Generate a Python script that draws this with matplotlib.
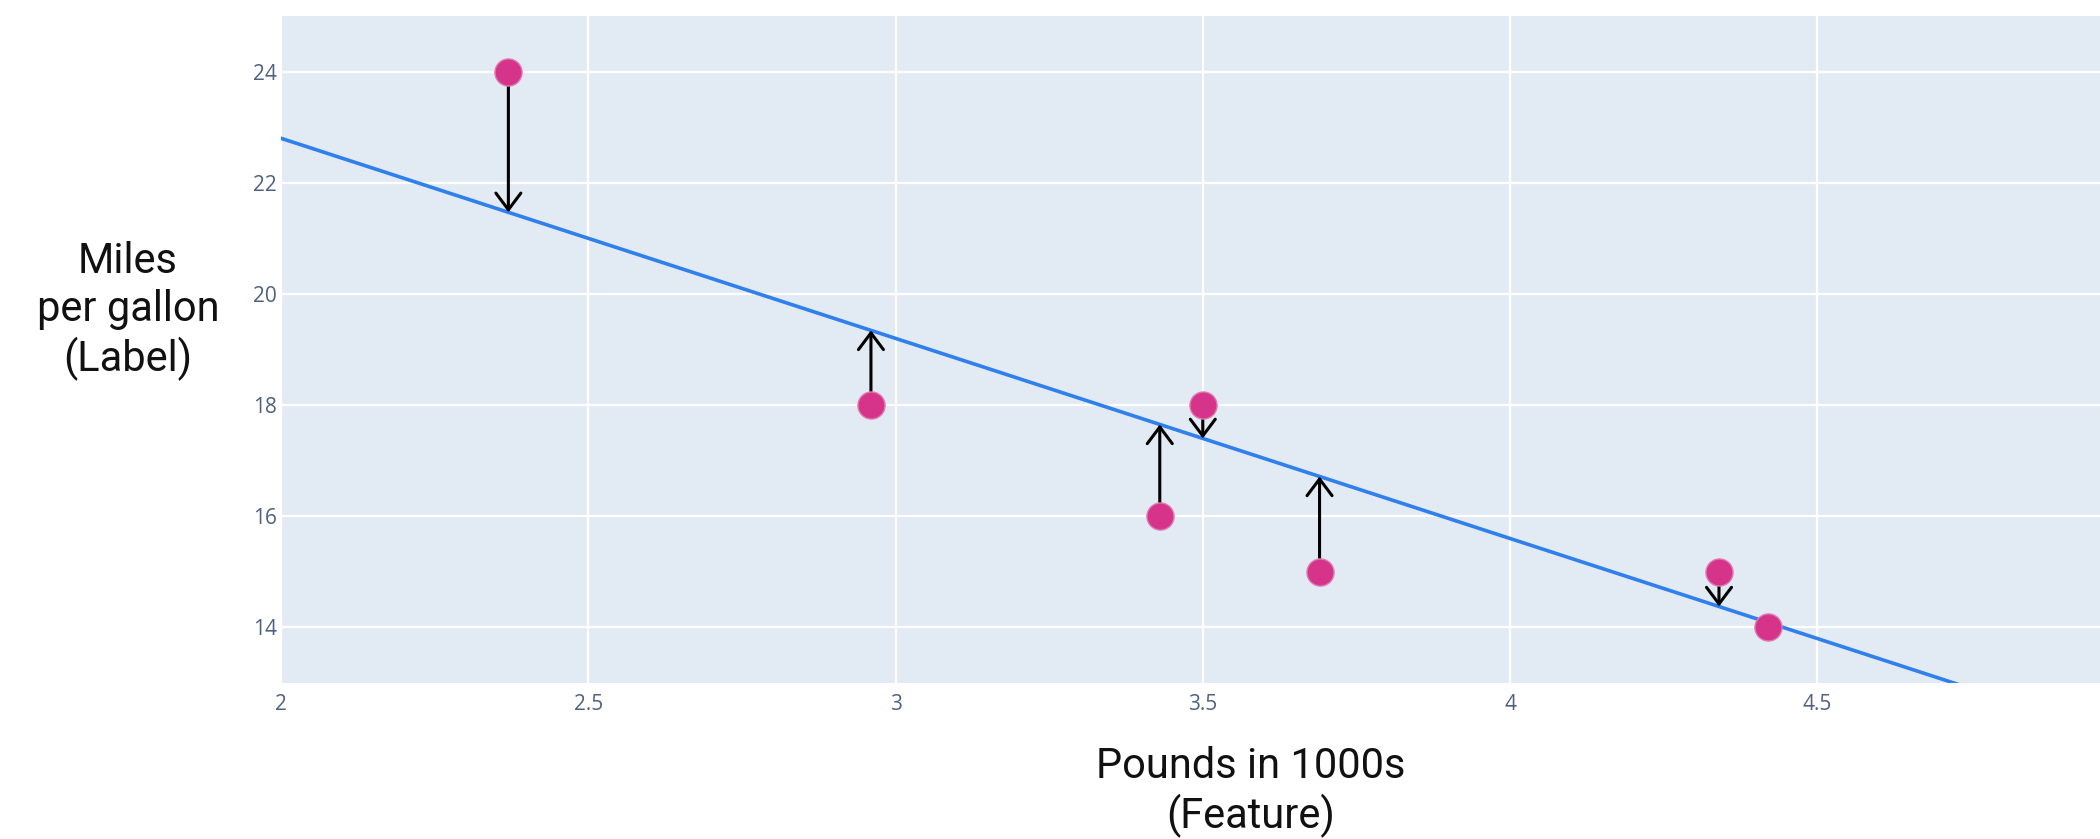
import numpy as np
import matplotlib
matplotlib.use("Agg")
import matplotlib.pyplot as plt

# Data
weights = [2.37, 2.96, 3.43, 3.50, 3.69, 4.34, 4.42]   # pounds in 1000s
mpg = [24, 18, 16, 18, 15, 15, 14]
line_intercept = 30.0
line_slope = -3.6
x_ticks = [2, 2.5, 3, 3.5, 4, 4.5]
x_tick_labels = ["2", "2.5", "3", "3.5", "4", "4.5"]
y_ticks = [14, 16, 18, 20, 22, 24]
y_tick_labels = ["14", "16", "18", "20", "22", "24"]

fig = plt.figure(figsize=(21, 8.39), dpi=100)
ax = fig.add_axes([281/2100, 1 - 683/839, 1 - 281/2100, (683 - 16)/839])
ax.set_facecolor("#E2EAF4")
ax.set_xlim(2, 4.96)
ax.set_ylim(13, 25)

ax.set_xticks(x_ticks)
ax.set_xticklabels(x_tick_labels)
ax.set_yticks(y_ticks)
ax.set_yticklabels(y_tick_labels)
ax.grid(True, color="white", linewidth=1.6)
ax.set_axisbelow(True)
for s in ax.spines.values():
    s.set_visible(False)
ax.tick_params(axis="x", length=0, labelsize=15, labelcolor="#4F6080", pad=8)
ax.tick_params(axis="y", length=0, labelsize=15, labelcolor="#4F6080", pad=3)
for lab in ax.get_xticklabels() + ax.get_yticklabels():
    lab.set_fontfamily("Open Sans")

# regression line
xl = np.array([2.0, 4.96])
ax.plot(xl, line_intercept + line_slope * xl, color="#2F80ED", linewidth=2.6, zorder=2)

# residual arrows (only where the residual is visible)
for x, y in zip(weights, mpg):
    yp = line_intercept + line_slope * x
    if abs(y - yp) < 0.2:
        continue
    ax.annotate("", xy=(x, yp), xytext=(x, y),
                arrowprops=dict(arrowstyle="->, head_length=0.6, head_width=0.45",
                                lw=2.2, color="black", shrinkA=10, shrinkB=0,
                                mutation_scale=20),
                zorder=3)

ax.scatter(weights, mpg, s=380, marker="o", color="#D6338A",
           edgecolors="#E07AAE", linewidths=1.0, zorder=4)

fig.text(128/2100, 1 - 311/839, "Miles\nper gallon\n(Label)", ha="center", va="center",
         fontsize=30, family="Roboto", linespacing=1.2, color="#111111")
fig.text(1251/2100, 1 - 792/839, "Pounds in 1000s\n(Feature)", ha="center", va="center",
         fontsize=30, family="Roboto", linespacing=1.2, color="#111111")

fig.savefig("out.png", dpi=100)
